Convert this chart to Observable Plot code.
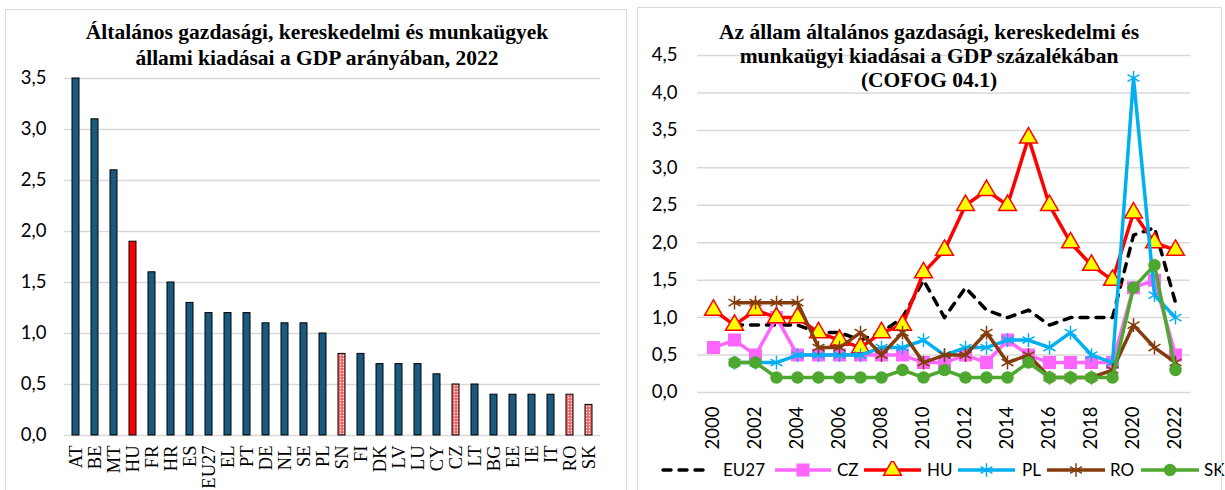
<!DOCTYPE html>
<html>
<head>
<meta charset="utf-8">
<script src="https://cdn.jsdelivr.net/npm/d3@7"></script>
<script src="https://cdn.jsdelivr.net/npm/@observablehq/plot@0.6"></script>
<style>
  html, body { margin: 0; padding: 0; background: #fff; }
  body { width: 1225px; height: 490px; overflow: hidden; position: relative; }
  .panel { position: absolute; border: 1.5px solid #d9d9d9; box-sizing: border-box; pointer-events: none; }
  .title { position: absolute; font-family: "Liberation Serif", "Times New Roman", serif; font-weight: bold; font-size: 21.5px; text-align: center; color: #000; white-space: nowrap; }
  .chart { position: absolute; top: 0; }
  #left g[aria-label^="x-axis"] text { font-family: "Liberation Serif", "Times New Roman", serif; font-size: 18.5px; }
  #left g[aria-label^="y-axis"] text, #right g[aria-label^="y-axis"] text, #right g[aria-label^="x-axis"] text { font-family: Lato, "Liberation Sans", Arial, sans-serif; font-size: 18.5px; }
  #legend { position: absolute; left: 0; top: 0; width: 1225px; height: 490px; font-family: Lato, "Liberation Sans", Arial, sans-serif; font-size: 17px; color: #000; pointer-events: none; }
  #legend .sw { position: absolute; top: 461px; }
  #legend .lbl { position: absolute; top: 460px; line-height: 20px; white-space: nowrap; }
</style>
</head>
<body>
<svg width="0" height="0" style="position:absolute">
  <defs>
    <pattern id="dots" width="3" height="3" patternUnits="userSpaceOnUse">
      <rect width="3" height="3" fill="#f26a6a"/>
      <circle cx="1.5" cy="1.5" r="0.7" fill="#ffffff"/>
    </pattern>
  </defs>
</svg>

<div id="left" class="chart" style="left:0px"></div>
<div id="right" class="chart" style="left:637px"></div>

<div class="title" style="left:17px; width:600px; top:19px; line-height:26px;">Általános gazdasági, kereskedelmi és munkaügyek<br>állami kiadásai a GDP arányában, 2022</div>
<div class="title" style="left:629px; width:600px; top:20px; line-height:24px;">Az állam általános gazdasági, kereskedelmi és<br>munkaügyi kiadásai a GDP százalékában<br>(COFOG 04.1)</div>

<div id="legend"></div>

<div class="panel" style="left:5px; top:9px; width:622px; height:500px;"></div>
<div class="panel" style="left:637px; top:7px; width:585px; height:500px;"></div>

<script>
// ---------- Left chart data ----------
const countries = ["AT","BE","MT","HU","FR","HR","ES","EU27","EL","PT","DE","NL","SE","PL","SN","FI","DK","LV","LU","CY","CZ","LT","BG","EE","IE","IT","RO","SK"];
const values2022 = [3.5,3.1,2.6,1.9,1.6,1.5,1.3,1.2,1.2,1.2,1.1,1.1,1.1,1.0,0.8,0.8,0.7,0.7,0.7,0.6,0.5,0.5,0.4,0.4,0.4,0.4,0.4,0.3];
const highlighted = ["HU"];
const patterned = ["SN","CZ","RO","SK"];
const leftTicks = [0,0.5,1,1.5,2,2.5,3,3.5];

// ---------- Right chart data ----------
const years = [2000,2001,2002,2003,2004,2005,2006,2007,2008,2009,2010,2011,2012,2013,2014,2015,2016,2017,2018,2019,2020,2021,2022];
const yearTicks = [2000,2002,2004,2006,2008,2010,2012,2014,2016,2018,2020,2022];
const rightTicks = [0,0.5,1,1.5,2,2.5,3,3.5,4,4.5];
const seriesNames = ["EU27","CZ","HU","PL","RO","SK"];
const EU27 = [null,0.9,0.9,0.9,0.9,0.8,0.8,0.7,0.8,1.0,1.5,1.0,1.4,1.1,1.0,1.1,0.9,1.0,1.0,1.0,2.1,2.2,1.2];
const CZ   = [0.6,0.7,0.5,1.0,0.5,0.5,0.5,0.5,0.5,0.5,0.4,0.4,0.5,0.4,0.7,0.5,0.4,0.4,0.4,0.4,1.4,1.5,0.5];
const HU   = [1.1,0.9,1.1,1.0,1.0,0.8,0.7,0.6,0.8,0.9,1.6,1.9,2.5,2.7,2.5,3.4,2.5,2.0,1.7,1.5,2.4,2.0,1.9];
const PL   = [null,0.4,0.4,0.4,0.5,0.5,0.5,0.5,0.6,0.6,0.7,0.5,0.6,0.6,0.7,0.7,0.6,0.8,0.5,0.4,4.2,1.3,1.0];
const RO   = [null,1.2,1.2,1.2,1.2,0.6,0.6,0.8,0.5,0.8,0.4,0.5,0.5,0.8,0.4,0.5,0.2,0.2,0.2,0.3,0.9,0.6,0.4];
const SK   = [null,0.4,0.4,0.2,0.2,0.2,0.2,0.2,0.2,0.3,0.2,0.3,0.2,0.2,0.2,0.4,0.2,0.2,0.2,0.2,1.4,1.7,0.3];

const fmt = d => d.toFixed(1).replace(".", ",");

// ---------- Left chart ----------
const bars = countries.map((c, i) => ({c, v: values2022[i]}));
const isPlain = d => !highlighted.includes(d.c) && !patterned.includes(d.c);

const left = Plot.plot({
  width: 627, height: 490,
  marginLeft: 64, marginRight: 27, marginTop: 78, marginBottom: 55,
  style: {background: "transparent", color: "#000", fontSize: "18px", overflow: "visible"},
  x: {domain: countries, paddingInner: 0.64, paddingOuter: 0.32, label: null, tickSize: 0, tickPadding: 10, tickRotate: -90},
  y: {domain: [0, 3.5], ticks: leftTicks, tickFormat: fmt, tickSize: 0, tickPadding: 18, label: null},
  marks: [
    Plot.ruleY(leftTicks, {stroke: "#d9d9d9", strokeWidth: 1.5}),
    Plot.barY(bars.filter(isPlain), {x: "c", y: "v", fill: "#1a5a7e", stroke: "#000", strokeWidth: 1}),
    Plot.barY(bars.filter(d => highlighted.includes(d.c)), {x: "c", y: "v", fill: "#ff0000", stroke: "#000", strokeWidth: 1}),
    Plot.barY(bars.filter(d => patterned.includes(d.c)), {x: "c", y: "v", fill: "url(#dots)", stroke: "#000", strokeWidth: 1})
  ]
});
document.getElementById("left").appendChild(left);

// ---------- Right chart ----------
const seriesValues = {EU27, CZ, HU, PL, RO, SK};
const styles = {
  EU27: {stroke: "#000000", dash: "8,8", symbol: null},
  CZ:   {stroke: "#ff66ff", symbol: "square", fill: "#ff66ff", mstroke: "#ff66ff", r: 6.5},
  HU:   {stroke: "#ff0000", symbol: "triangle", fill: "#ffff00", mstroke: "#ff0000", r: 6.6},
  PL:   {stroke: "#00b0f0", symbol: "asterisk", fill: "none", mstroke: "#00b0f0", r: 6.5},
  RO:   {stroke: "#843c0c", symbol: "asterisk", fill: "none", mstroke: "#843c0c", r: 6.5},
  SK:   {stroke: "#4ea72e", symbol: "circle", fill: "#4ea72e", mstroke: "#4ea72e", r: 5.5}
};
const rightMarks = [Plot.ruleY(rightTicks, {stroke: "#d9d9d9", strokeWidth: 1.5})];
for (const name of seriesNames) {
  const st = styles[name];
  const pts = years.map((y, i) => ({year: y, v: seriesValues[name][i]})).filter(d => d.v != null);
  rightMarks.push(Plot.line(pts, {x: "year", y: "v", stroke: st.stroke, strokeWidth: 3.5,
    strokeDasharray: st.dash || null, strokeLinecap: st.dash ? "round" : "butt", strokeLinejoin: "round"}));
  if (st.symbol) {
    rightMarks.push(Plot.dot(pts, {x: "year", y: "v", symbol: st.symbol, r: st.r, fill: st.fill,
      stroke: st.mstroke, strokeWidth: 1.5}));
  }
}
const right = Plot.plot({
  width: 588, height: 490,
  marginLeft: 60, marginRight: 35, marginTop: 55, marginBottom: 98,
  style: {background: "transparent", color: "#000", fontSize: "18px", overflow: "visible"},
  x: {type: "point", domain: years, padding: 0.5, ticks: yearTicks, tickFormat: d => String(d), tickSize: 0, tickPadding: 14, tickRotate: -90, label: null},
  y: {domain: [0, 4.5], ticks: rightTicks, tickFormat: fmt, tickSize: 0, tickPadding: 20, label: null},
  marks: rightMarks
});
document.getElementById("right").appendChild(right);

// ---------- Legend (layout: swatch left, swatch width, label left) ----------
const legendLayout = [[661, 52, 723], [775, 56, 837], [864, 57, 927], [958, 57, 1022], [1047, 58, 1110], [1141, 58, 1204]];
const legend = document.getElementById("legend");
const symMap = {square: d3.symbolSquare, triangle: d3.symbolTriangle, asterisk: d3.symbolAsterisk, circle: d3.symbolCircle};
seriesNames.forEach((name, i) => {
  const st = styles[name];
  const [sx, w, tx] = legendLayout[i];
  const h = 18;
  let svg = `<svg class="sw" style="left:${sx}px" width="${w}" height="${h}">`;
  svg += `<line x1="${st.dash ? 2 : 0}" x2="${st.dash ? w - 2 : w}" y1="${h/2}" y2="${h/2}" stroke="${st.stroke}" stroke-width="3.5" ${st.dash ? `stroke-dasharray="${st.dash}" stroke-linecap="round"` : ""}/>`;
  if (st.symbol) {
    const p = d3.symbol(symMap[st.symbol], Math.PI * st.r * st.r)();
    svg += `<path transform="translate(${w/2},${h/2})" d="${p}" fill="${st.fill}" stroke="${st.mstroke}" stroke-width="1.5"/>`;
  }
  svg += `</svg>`;
  legend.insertAdjacentHTML("beforeend", svg + `<span class="lbl" style="left:${tx}px">${name}</span>`);
});
</script>
</body>
</html>
